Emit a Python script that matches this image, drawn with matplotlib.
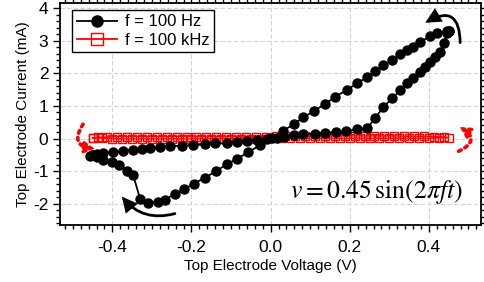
import matplotlib
matplotlib.use("Agg")
import matplotlib.pyplot as plt
from matplotlib.patches import FancyArrowPatch
from matplotlib.lines import Line2D
from matplotlib.ticker import MultipleLocator

plt.rcParams['font.family'] = ['Liberation Sans', 'DejaVu Sans']
plt.rcParams['mathtext.fontset'] = 'stix'

# 100 Hz loop (voltage V, current mA), traced along the cycle
v_100hz = [0.450, 0.446, 0.421, 0.404, 0.378, 0.361, 0.345, 0.328, 0.307, 0.285, 0.264,
           0.243, 0.218, 0.193, 0.163, 0.138, 0.110, 0.083, 0.058, 0.031, 0.003,
           -0.027, -0.056, -0.084, -0.111, -0.138, -0.166, -0.194, -0.219, -0.242, -0.267,
           -0.285, -0.309, -0.330, -0.347, -0.364, -0.383, -0.402, -0.423, -0.440, -0.452,
           -0.456, -0.450, -0.440, -0.423, -0.398, -0.372, -0.347, -0.326, -0.305, -0.280,
           -0.254, -0.225, -0.195, -0.166, -0.140, -0.111, -0.086, -0.060, -0.035, -0.010,
           0.015, 0.035, 0.058, 0.083, 0.113, 0.138, 0.166, 0.191, 0.218, 0.243,
           0.264, 0.285, 0.307, 0.328, 0.345, 0.361, 0.378, 0.391, 0.404, 0.416,
           0.429, 0.439, 0.446, 0.450]
i_100hz = [3.30, 3.28, 3.23, 3.13, 2.97, 2.82, 2.72, 2.58, 2.41, 2.25, 2.07,
           1.88, 1.69, 1.49, 1.28, 1.06, 0.85, 0.65, 0.44, 0.23, 0.02,
           -0.21, -0.41, -0.62, -0.79, -1.00, -1.20, -1.38, -1.56, -1.69, -1.88,
           -1.93, -1.97, -1.85, -1.13, -0.98, -0.82, -0.72, -0.65, -0.57, -0.51,
           -0.54, -0.49, -0.46, -0.44, -0.41, -0.38, -0.34, -0.31, -0.28, -0.26,
           -0.24, -0.22, -0.20, -0.18, -0.15, -0.14, -0.10, -0.07, -0.04, -0.01,
           0.03, 0.06, 0.10, 0.13, 0.15, 0.17, 0.20, 0.23, 0.28, 0.31,
           0.62, 0.97, 1.23, 1.49, 1.69, 1.85, 2.05, 2.20, 2.36, 2.51,
           2.66, 2.92, 3.23, 3.30]

# 100 kHz loop
v_100khz = [-0.450, -0.425, -0.400, -0.375, -0.350, -0.325, -0.300, -0.275, -0.250, -0.225,
            -0.200, -0.175, -0.150, -0.125, -0.100, -0.075, -0.050, -0.025, 0.000, 0.025,
            0.050, 0.075, 0.100, 0.125, 0.150, 0.175, 0.200, 0.225, 0.250, 0.275,
            0.300, 0.325, 0.350, 0.375, 0.400, 0.425, 0.450,
            0.4375, 0.4125, 0.3875, 0.3625, 0.3375, 0.3125, 0.2875, 0.2625, 0.2375, 0.2125,
            0.1875, 0.1625, 0.1375, 0.1125, 0.0875, 0.0625, 0.0375, 0.0125, -0.0125, -0.0375,
            -0.0625, -0.0875, -0.1125, -0.1375, -0.1625, -0.1875, -0.2125, -0.2375, -0.2625, -0.2875,
            -0.3125, -0.3375, -0.3625, -0.3875, -0.4125, -0.4375, -0.450]
i_100khz = [0.02, 0.01, 0.00, -0.01, -0.01, -0.01, -0.01, -0.01, -0.01, -0.01,
            -0.01, -0.01, 0.00, 0.00, 0.00, 0.00, 0.00, 0.00, 0.01, 0.01,
            0.01, 0.01, 0.01, 0.01, 0.01, 0.01, 0.01, 0.01, 0.01, 0.01,
            0.01, 0.01, 0.01, 0.01, 0.01, 0.02, 0.03,
            0.05, 0.06, 0.07, 0.07, 0.07, 0.08, 0.08, 0.08, 0.08, 0.08,
            0.08, 0.08, 0.07, 0.07, 0.07, 0.07, 0.07, 0.07, 0.06, 0.06,
            0.06, 0.06, 0.06, 0.06, 0.06, 0.06, 0.06, 0.06, 0.06, 0.06,
            0.06, 0.06, 0.06, 0.06, 0.05, 0.04, 0.02]

x_ticks = [-0.4, -0.2, 0.0, 0.2, 0.4]
x_ticklabels = ['-0.4', '-0.2', '0.0', '0.2', '0.4']
y_ticks = [-2, -1, 0, 1, 2, 3, 4]
y_ticklabels = ['-2', '-1', '0', '1', '2', '3', '4']

fig = plt.figure(figsize=(4.85, 2.82), dpi=100)
ax = fig.add_axes([0.124, 0.202, 0.868, 0.787])

ax.grid(True, which='major', color='#d4d4d4', linestyle=(0, (4, 2)), linewidth=0.8, zorder=0)

ax.plot(v_100khz, i_100khz, color='#ff0000', lw=1.0, marker='s', ms=5.6,
        mfc='none', mec='#ff0000', mew=1.0, zorder=3)
ax.plot(v_100hz, i_100hz, color='black', lw=1.3, marker='o', ms=6.5,
        mfc='black', mec='black', zorder=4)

ax.set_xlim(-0.532, 0.532)
ax.set_ylim(-2.65, 4.15)
ax.set_xticks(x_ticks)
ax.set_xticklabels(x_ticklabels)
ax.set_yticks(y_ticks)
ax.set_yticklabels(y_ticklabels)
ax.xaxis.set_minor_locator(MultipleLocator(0.02))
ax.yaxis.set_minor_locator(MultipleLocator(0.2))
ax.tick_params(which='both', direction='out', top=True, right=True,
               labelsize=12.5, width=1.0, colors='black')
ax.tick_params(which='major', length=5)
ax.tick_params(which='minor', length=3)
ax.tick_params(axis='x', pad=6)
for s in ax.spines.values():
    s.set_linewidth(1.3)

ax.set_xlabel('Top Electrode Voltage (V)', fontsize=11, labelpad=3)
ax.set_ylabel('Top Electrode Current (mA)', fontsize=11, labelpad=2)

# Arrows
def arr(p0, p1, rad, color, ls='-', lw=2.0, hl=9, hw=4.5):
    a = FancyArrowPatch(p0, p1, connectionstyle=f"arc3,rad={rad}",
                        arrowstyle=f"-|>,head_length={hl},head_width={hw}",
                        color=color, lw=lw, linestyle=ls, zorder=6,
                        shrinkA=0, shrinkB=0, joinstyle='miter')
    ax.add_patch(a)

arr((0.479, 2.94), (0.391, 3.55), 0.85, 'black', hl=8, hw=4)
arr((-0.242, -2.30), (-0.376, -1.78), -0.32, 'black', hl=8, hw=4)
arr((-0.474, 0.44), (-0.445, -0.31), 0.8, '#ff0000', ls=(0, (0.8, 1.2)), lw=2.6, hl=5.5, hw=3.2)
arr((0.475, -0.39), (0.479, 0.35), 0.9, '#ff0000', ls=(0, (0.8, 1.2)), lw=2.6, hl=5.5, hw=3.2)

ax.text(0.487, -1.64, r'$v = 0.45\,\sin\!\left(2\pi f t\right)$', fontsize=18.5,
        ha='right', va='center', zorder=7)

handles = [Line2D([], [], color='black', lw=1.3, marker='o', ms=8, mfc='black'),
           Line2D([], [], color='#ff0000', lw=1.3, marker='s', ms=8, mfc='none', mec='#ff0000')]
leg = ax.legend(handles, ['f = 100 Hz', 'f = 100 kHz'], loc='upper left',
                bbox_to_anchor=(0.029, 0.968), fontsize=12, frameon=True, fancybox=False,
                edgecolor='black', framealpha=1, handlelength=2.4, handletextpad=0.5,
                borderpad=0.25, labelspacing=0.2, borderaxespad=0)
leg.get_frame().set_linewidth(1.0)

fig.savefig('out.png', dpi=100)
